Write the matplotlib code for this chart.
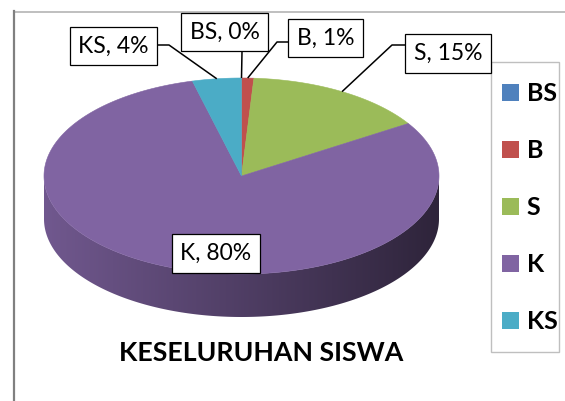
import numpy as np
import matplotlib.pyplot as plt
from matplotlib.patches import Polygon, Patch, Rectangle
from matplotlib.colors import to_rgb

# data
categories = ["BS", "B", "S", "K", "KS"]
values = [0, 1, 15, 80, 4]
colors = ["#4F81BD", "#C0504D", "#9BBB59", "#8064A2", "#4BACC6"]
title = "KESELURUHAN SISWA"

plt.rcParams["font.family"] = ["Lato", "DejaVu Sans"]

W, H = 565, 401
fig = plt.figure(figsize=(W / 100, H / 100), dpi=100)
ax = fig.add_axes([0, 0, 1, 1])

# pie geometry (pixel units)
cx, cy, rx, ry, depth = 241.5, 176, 197.5, 98, 43


def rim(theta):
    t = np.radians(theta)
    return cx + rx * np.sin(t), cy - ry * np.cos(t)


total = sum(values)
edges = np.concatenate([[0], np.cumsum(values)]) / total * 360

# side wall, only the front half is visible
xs = np.linspace(cx - rx, cx + rx, 400)
shade = np.interp(xs, [cx - rx, cx + rx], [0.88, 0.36])
for i, (a0, a1) in enumerate(zip(edges[:-1], edges[1:])):
    lo, hi = max(a0, 90), min(a1, 270)
    if hi <= lo:
        continue
    th = np.linspace(lo, hi, 200)
    x, y = rim(th)
    verts = np.column_stack([np.r_[x, x[::-1]], np.r_[y, y[::-1] + depth]])
    poly = Polygon(verts, closed=True, facecolor="none", edgecolor="none")
    ax.add_patch(poly)
    rgb = np.array(to_rgb(colors[i]))
    img = shade[None, :, None] * rgb[None, None, :]
    im = ax.imshow(img, extent=(cx - rx, cx + rx, cy + ry + depth, cy - ry),
                   aspect="auto", zorder=1, interpolation="bilinear")
    im.set_clip_path(poly)

# top face
for i, (a0, a1) in enumerate(zip(edges[:-1], edges[1:])):
    if a1 <= a0:
        continue
    th = np.linspace(a0, a1, max(int(a1 - a0) * 3, 4))
    x, y = rim(th)
    verts = np.column_stack([np.r_[cx, x], np.r_[cy, y]])
    ax.add_patch(Polygon(verts, closed=True, facecolor=colors[i],
                         edgecolor=colors[i], linewidth=0.4, zorder=2))

# data labels with leader lines
label_pos = {"KS": (113.5, 46), "BS": (224.5, 32), "B": (325.5, 38),
             "S": (448, 53.5), "K": (216, 253.5)}
leader = {"KS": [(157, 45), (169, 45)], "BS": [(242, 52)],
          "B": [(288, 42), (277, 42)], "S": [(405, 45), (392, 45)]}
for i, cat in enumerate(categories):
    mid = (edges[i] + edges[i + 1]) / 2
    if cat in leader:
        ex, ey = rim(mid)
        pts = leader[cat] + [(ex, ey)]
        ax.plot([p[0] for p in pts], [p[1] for p in pts], color="black",
                linewidth=1.1, zorder=3, solid_capstyle="butt")
    lx, ly = label_pos[cat]
    ax.text(lx, ly, f"{cat}, {values[i]}%", ha="center", va="center",
            fontsize=16.5, zorder=4,
            bbox=dict(boxstyle="square,pad=0.38", facecolor="white",
                      edgecolor="black", linewidth=0.9))

ax.text(261, 353, title, ha="center", va="center", fontsize=19.3,
        fontweight="bold", zorder=4)

# chart frame
ax.plot([14, W], [11.5, 11.5], color="#b4b4b4", linewidth=1.2, zorder=0)
ax.plot([14, 14], [11, H], color="#808080", linewidth=1.6, zorder=0)

# legend
ax.add_patch(Rectangle((491, 62), 68, 290, facecolor="white",
                       edgecolor="#bfbfbf", linewidth=1.0, zorder=3))
handles = [Patch(facecolor=c, edgecolor="none") for c in colors]
leg = ax.legend(handles, categories, loc="upper left",
                bbox_to_anchor=(491 / W, 1 - 71 / H), borderaxespad=0,
                prop=dict(weight="bold", size=18), frameon=False,
                handlelength=0.68, handleheight=0.68, handletextpad=0.3,
                labelspacing=1.36, borderpad=0.45)
leg.set_zorder(5)

ax.set_xlim(0, W)
ax.set_ylim(H, 0)
ax.axis("off")

fig.savefig("out.png", dpi=100)
